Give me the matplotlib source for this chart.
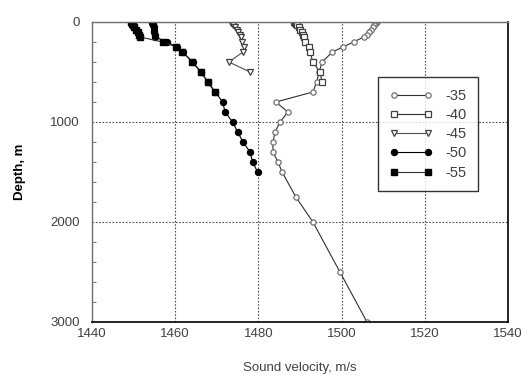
import numpy as np
import matplotlib
matplotlib.use("Agg")
import matplotlib.pyplot as plt
from matplotlib.ticker import MultipleLocator

plt.rcParams['font.family'] = ['Liberation Sans', 'DejaVu Sans']

# depth levels (m)
depth_35 = [0, 10, 20, 30, 50, 75, 100, 125, 150, 200, 250, 300, 400, 500, 600, 700,
            800, 900, 1000, 1100, 1200, 1300, 1400, 1500, 1750, 2000, 2500, 3000]
vel_35 = [1508.5, 1508.3, 1508.1, 1507.9, 1507.5, 1507.1, 1506.6, 1506.0, 1505.3, 1502.9,
          1500.3, 1497.8, 1495.3, 1494.6, 1494.0, 1493.1, 1484.2, 1487.1, 1485.2, 1484.0,
          1483.5, 1483.5, 1484.7, 1485.7, 1489.0, 1493.1, 1499.6, 1506.1]

depth_40 = [0, 10, 20, 30, 50, 75, 100, 125, 150, 200, 250, 300, 400, 500, 600]
vel_40 = [1488.6, 1488.8, 1489.0, 1489.3, 1489.7, 1490.1, 1490.5, 1490.8, 1491.0, 1491.3,
          1492.1, 1492.4, 1493.1, 1494.8, 1495.3]

depth_45 = [0, 10, 20, 30, 50, 75, 100, 125, 150, 200, 250, 300, 400, 500]
vel_45 = [1473.3, 1473.5, 1473.8, 1474.0, 1474.4, 1474.8, 1475.2, 1475.5, 1475.8, 1476.1,
          1476.5, 1476.3, 1472.9, 1478.0]

depth_50 = [0, 10, 20, 30, 50, 75, 100, 125, 150, 200, 250, 300, 400, 500, 600, 700,
            800, 900, 1000, 1100, 1200, 1300, 1400, 1500]
vel_50 = [1454.4, 1454.5, 1454.6, 1454.7, 1454.8, 1454.9, 1455.0, 1455.1, 1455.2, 1458.0,
          1460.4, 1461.8, 1464.2, 1466.2, 1467.9, 1469.6, 1471.4, 1472.0, 1473.8, 1475.0,
          1476.3, 1478.0, 1478.6, 1479.8]

depth_55 = [0, 10, 20, 30, 50, 75, 100, 125, 150, 200, 250, 300, 400, 500, 600, 700]
vel_55 = [1449.3, 1449.5, 1449.7, 1449.9, 1450.2, 1450.6, 1451.0, 1451.3, 1451.6, 1457.0,
          1460.3, 1461.7, 1464.1, 1466.1, 1467.8, 1469.5]

fig = plt.figure(figsize=(5.29, 3.83), dpi=100)
ax = fig.add_axes([92/529, 1 - 322/383, 416/529, 300/383])

txt = '#404040'
ax.plot(vel_35, depth_35, '-o', color='#303030', lw=0.8, ms=3.8, mfc='white',
        mec='#707070', mew=0.9, label='-35')
ax.plot(vel_40, depth_40, '-s', color='#303030', lw=0.8, ms=4.2, mfc='white',
        mec='#404040', mew=0.9, label='-40')
ax.plot(vel_45, depth_45, '-v', color='#505050', lw=0.8, ms=4.8, mfc='white',
        mec='#404040', mew=0.9, label='-45')
ax.plot(vel_50, depth_50, '-o', color='black', lw=0.8, ms=4.3, mfc='black',
        mec='black', label='-50')
ax.plot(vel_55, depth_55, '-s', color='#303030', lw=0.8, ms=4.3, mfc='black',
        mec='black', label='-55')

ax.set_xlim(1440, 1540)
ax.set_ylim(3000, 0)
ax.xaxis.set_major_locator(MultipleLocator(20))
ax.yaxis.set_major_locator(MultipleLocator(1000))
ax.yaxis.set_minor_locator(MultipleLocator(200))
ax.grid(True, which='major', linestyle=(0, (1.5, 1.5)), color='#505050', lw=0.8)
ax.tick_params(axis='both', which='both', direction='in', colors='#606060',
               labelcolor=txt, labelsize=9.5)
ax.tick_params(axis='y', which='major', length=0, pad=9)
ax.tick_params(axis='y', which='minor', length=3, width=0.6)
ax.tick_params(axis='x', which='major', length=0, pad=4)

for s in ['left', 'top']:
    ax.spines[s].set_color('#707070')
    ax.spines[s].set_linewidth(1.0)
for s in ['right', 'bottom']:
    ax.spines[s].set_color('black')
    ax.spines[s].set_linewidth(1.2)

ax.set_xlabel('Sound velocity, m/s', fontsize=9.5, color=txt, labelpad=16)
ax.set_ylabel('Depth, m', fontsize=9.5, fontweight='bold', color='black', labelpad=17)

leg = ax.legend(loc='upper left', bbox_to_anchor=(378/529, 1 - 77/383),
                bbox_transform=fig.transFigure, fontsize=10.5, frameon=True,
                fancybox=False, edgecolor='black', numpoints=2, handlelength=2.9,
                labelspacing=0.36, borderpad=0.8, handletextpad=0.9,
                borderaxespad=0)
leg.get_frame().set_linewidth(1.0)
for t in leg.get_texts():
    t.set_color(txt)

fig.savefig('out.png', dpi=100)
